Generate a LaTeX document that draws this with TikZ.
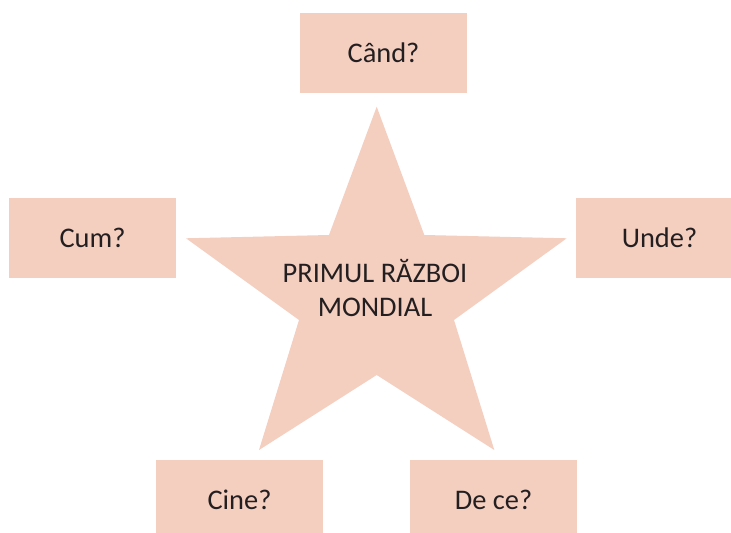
\documentclass[tikz,border=0pt]{standalone}
\usepackage{fontspec}
\setmainfont{Carlito}
\definecolor{peach}{RGB}{244,206,191}
\definecolor{ink}{RGB}{35,31,32}

\begin{document}
\begin{tikzpicture}[x=0.5pt, y=-0.5pt,
question/.style={fill=peach, inner sep=0, minimum width=83.5pt, minimum height=40pt, text=ink, font=\fontsize{14.2}{16}\selectfont},
starfill/.style={fill=peach},
title/.style={align=center, text=ink, inner sep=0, font=\fontsize{14.2}{17}\selectfont},
]
\useasboundingbox (0,0) rectangle (731,533); %%%%%%% SIZE OF THE PAGE

%%%%%%%%%%%%%%%%%%%%%%%% STAR %%%%%%%%%%%%%%%%%%%%%%%%%%%
\coordinate (TopTip) at (376.7,106.7);
\coordinate (RightTip) at (566.7,238.3);
\coordinate (RightFoot) at (494.3,450);
\coordinate (LeftFoot) at (259,450);
\coordinate (LeftTip) at (186,238.3);
\fill[starfill] (TopTip) -- (424.3,235) -- (RightTip) -- (454,320) -- (RightFoot)
  -- (376.7,375) -- (LeftFoot) -- (299,320) -- (LeftTip) -- (329,235) -- cycle;
\node[title] (war) at (375,288) {PRIMUL RĂZBOI\\MONDIAL};

%%%%%%%%%%%%%%%%%%%%%%%% QUESTIONS %%%%%%%%%%%%%%%%%%%%%%%%%%%
\node[question] (when) at (383.5,53) {Când?};
\node[question] (how) at (92.5,238) {Cum?};
\node[question] (where) at (659.5,238) {Unde?};
\node[question] (who) at (239.5,500) {Cine?};
\node[question] (why) at (493.5,500) {De ce?};

\end{tikzpicture}
\end{document}
